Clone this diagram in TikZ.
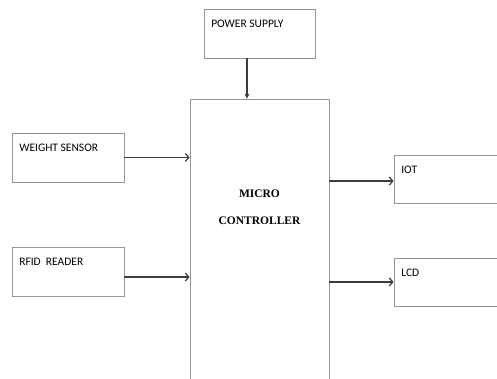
\documentclass[tikz,border=0pt]{standalone}
\usepackage{fontspec}
\setmainfont{Liberation Serif}
\newfontfamily\boxfont{Carlito}
\usetikzlibrary{positioning,arrows.meta}
\definecolor{boxgray}{RGB}{150, 150, 150}
\definecolor{arrowgray}{RGB}{60, 60, 60}

\begin{document}
\begin{tikzpicture}[
  x=1pt, y=-1pt,
  block/.style={
    draw=boxgray, line width=0.8pt, inner sep=0pt,
    minimum width=112pt, minimum height=49pt,
    label={[anchor=north west, inner xsep=7.5pt, inner ysep=11pt,
            font=\boxfont\fontsize{11.5pt}{13pt}\selectfont]north west:#1}
  },
  arr/.style={-{Straight Barb[length=3.5pt, width=8pt]}, line width=1.2pt, arrowgray},
  parr/.style={-{Stealth[length=5pt, width=5pt]}, line width=1.2pt, arrowgray}
]
\useasboundingbox (0,0) rectangle (497,378);
\clip (0,0) rectangle (497,378);

%% ── CONTROLLER ──
\node[block=, minimum width=139pt, minimum height=321pt] (MC) at (259.5,259.5) {};
\node[below=91pt of MC.north, inner sep=0pt, align=center,
      font=\bfseries\fontsize{11.5pt}{27pt}\selectfont] (MCtext)
  {MICRO\\CONTROLLER};

%% ── INPUTS ──
\node[block={POWER SUPPLY}, minimum width=111pt] (PS) at (259.5,33.5) {};
\node[block={WEIGHT SENSOR}] (WS) at (68,157.5) {};
\node[block={RFID\ \ READER}] (RFID) at (68,271.5) {};

%% ── OUTPUTS ──
\node[block={IOT}, minimum width=126pt, minimum height=48pt] (IOT) at (457,179) {};
\node[block={LCD}, minimum width=126pt, minimum height=48pt] (LCD) at (457,282) {};

%% ── ARROWS ──
\draw[parr] ([xshift=-12.5pt]PS.south) -- ([xshift=-12.5pt]PS.south |- MC.north);
\draw[arr] (WS.east) -- (WS.east -| MC.west);
\draw[arr] ([yshift=-5.5pt]RFID.east) -- ([yshift=-5.5pt]RFID.east -| MC.west);
\draw[arr] ([yshift=-2pt]IOT.west -| MC.east) -- ([yshift=-2pt]IOT.west);
\draw[arr] (LCD.west -| MC.east) -- (LCD.west);

\end{tikzpicture}
\end{document}
